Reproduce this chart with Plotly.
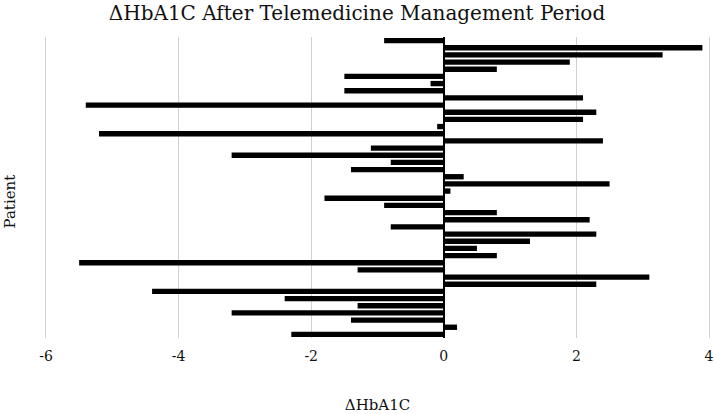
import plotly.graph_objects as go

patients = [f"P{i}" for i in range(1, 43)]
delta_hba1c = [
    -0.9, 3.9, 3.3, 1.9, 0.8, -1.5, -0.2, -1.5, 2.1, -5.4,
    2.3, 2.1, -0.1, -5.2, 2.4, -1.1, -3.2, -0.8, -1.4, 0.3,
    2.5, 0.1, -1.8, -0.9, 0.8, 2.2, -0.8, 2.3, 1.3, 0.5,
    0.8, -5.5, -1.3, 3.1, 2.3, -4.4, -2.4, -1.3, -3.2, -1.4,
    0.2, -2.3,
]
x_ticks = [-6, -4, -2, 0, 2, 4]

FONT = "DejaVu Serif"
W, H = 714, 414
L, R, T, B = 44, 3, 37, 76

fig = go.Figure(
    go.Bar(
        x=delta_hba1c,
        y=patients,
        orientation="h",
        marker=dict(color="black", line=dict(width=0)),
        width=0.75,
    )
)

fig.update_layout(
    width=W,
    height=H,
    margin=dict(l=L, r=R, t=T, b=B, autoexpand=False),
    paper_bgcolor="white",
    plot_bgcolor="white",
    showlegend=False,
    title=dict(
        text="ΔHbA1C After Telemedicine Management Period",
        x=0.5,
        xanchor="center",
        y=1 - 13 / H,
        yanchor="middle",
        font=dict(family=FONT, size=20, color="#111"),
    ),
    font=dict(family=FONT, color="#111"),
    annotations=[
        dict(
            text="Patient",
            xref="paper",
            yref="paper",
            x=(9.5 - L) / (W - L - R),
            y=(H - B - 202) / (H - T - B),
            xanchor="center",
            yanchor="middle",
            textangle=-90,
            showarrow=False,
            font=dict(family=FONT, size=15, color="#111"),
        )
    ],
)

fig.update_xaxes(
    range=[-6.03, 4.03],
    tickvals=x_ticks,
    ticktext=[str(v) for v in x_ticks],
    showgrid=True,
    gridcolor="#d0d0d0",
    gridwidth=1,
    zeroline=True,
    zerolinecolor="black",
    zerolinewidth=1.5,
    showline=False,
    ticks="",
    ticklabelstandoff=8,
    automargin=False,
    tickfont=dict(family=FONT, size=14, color="#111"),
    title=dict(text="ΔHbA1C", font=dict(family=FONT, size=15, color="#111"), standoff=43),
)

fig.update_yaxes(
    categoryorder="array",
    categoryarray=patients,
    autorange="reversed",
    showticklabels=False,
    showgrid=False,
    showline=False,
    ticks="",
    automargin=False,
)

fig.write_html(
    "out.html",
    config={"displayModeBar": False},
    post_script="document.body.style.margin='0px';document.body.style.padding='0px';",
)
